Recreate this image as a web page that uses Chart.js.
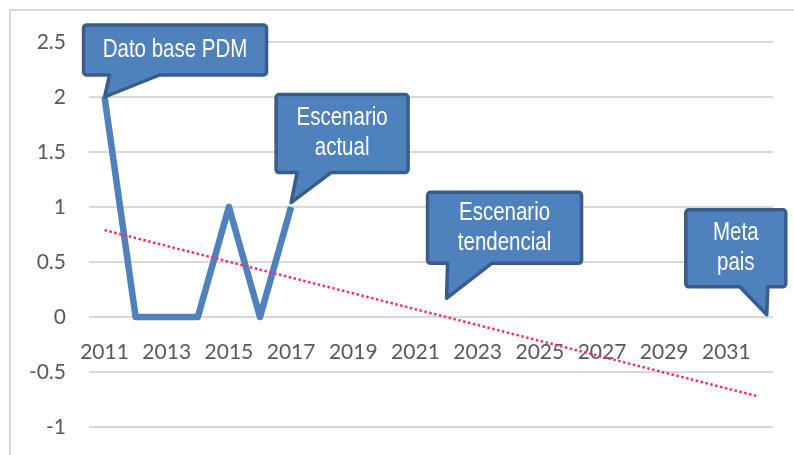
<!DOCTYPE html>
<html>
<head>
<meta charset="utf-8">
<script src="https://cdn.jsdelivr.net/npm/chart.js@4.4.1/dist/chart.umd.min.js"></script>
<style>
  html, body { margin: 0; padding: 0; background: #fff; }
  #wrap { width: 794px; height: 455px; position: relative; overflow: hidden; }
</style>
</head>
<body>
<div id="wrap"><canvas id="myChart" width="794" height="455"></canvas></div>
<script>
// Values
var years = ['2011','2012','2013','2014','2015','2016','2017','2018','2019','2020','2021',
             '2022','2023','2024','2025','2026','2027','2028','2029','2030','2031','2032'];
var actual = [2, 0, 0, 0, 1, 0, 1, null, null, null, null,
              null, null, null, null, null, null, null, null, null, null, null];
// dotted trend line: only its two ends are given, the library joins them
var trend = [0.79, null, null, null, null, null, null, null, null, null, null,
             null, null, null, null, null, null, null, null, null, null, -0.72];
var yTicks = [-1, -0.5, 0, 0.5, 1, 1.5, 2, 2.5];

// callout texts and the (category index, value) each one points to
var calloutText = [['Dato base PDM'], ['Escenario', 'actual'], ['Escenario', 'tendencial'], ['Meta', 'pais']];
var calloutAt = [[0, 2], [6, 1.04], [11, 0.17], [21.3, 0.02]];

// box shape relative to the tip: [left, right, top, bottom], tail base [from, to]
var calloutBox = [[-21, 162, -72, -22], [-15, 117, -108, -30], [-19, 135, -106, -35], [-81, 19, -105, -28]];
var calloutTail = [[5, 55], [6, 40], [1, 45], [-27, 1]];

Chart.defaults.font.family = 'Lato, "Liberation Sans", sans-serif';
Chart.defaults.color = '#595959';

var framePlugin = {
  id: 'frame',
  beforeDraw: function (chart) {
    var ctx = chart.ctx;
    ctx.save();
    ctx.fillStyle = '#fff';
    ctx.fillRect(0, 0, chart.width, chart.height);
    ctx.strokeStyle = '#d9d9d9';
    ctx.lineWidth = 2;
    ctx.strokeRect(10, 10, 900, 600);
    ctx.restore();
  }
};

var calloutPlugin = {
  id: 'callouts',
  afterDraw: function (chart) {
    var ctx = chart.ctx, xs = chart.scales.x, ys = chart.scales.y;
    for (var i = 0; i < calloutText.length; i++) {
      var tx = xs.getPixelForValue(calloutAt[i][0]);
      var ty = ys.getPixelForValue(calloutAt[i][1]);
      var b = calloutBox[i], t = calloutTail[i];
      var L = tx + b[0], R = tx + b[1], T = ty + b[2], B = ty + b[3];
      var a1 = tx + t[0], a2 = tx + t[1], r = 3;
      ctx.save();
      ctx.beginPath();
      ctx.moveTo(L + r, T);
      ctx.lineTo(R - r, T); ctx.arcTo(R, T, R, T + r, r);
      ctx.lineTo(R, B - r); ctx.arcTo(R, B, R - r, B, r);
      ctx.lineTo(a2, B); ctx.lineTo(tx, ty); ctx.lineTo(a1, B);
      ctx.lineTo(L + r, B); ctx.arcTo(L, B, L, B - r, r);
      ctx.lineTo(L, T + r); ctx.arcTo(L, T, L + r, T, r);
      ctx.closePath();
      ctx.fillStyle = '#4f81bd';
      ctx.fill();
      ctx.lineJoin = 'round';
      ctx.lineWidth = 3.5;
      ctx.strokeStyle = '#385d8a';
      ctx.stroke();

      // narrow white text
      var lines = calloutText[i];
      var cx = (L + R) / 2, cy = (T + B) / 2;
      ctx.fillStyle = '#fff';
      ctx.font = '25px "Liberation Sans", Arial, sans-serif';
      ctx.textAlign = 'center';
      ctx.textBaseline = 'middle';
      for (var k = 0; k < lines.length; k++) {
        ctx.save();
        ctx.translate(cx, cy + (k - (lines.length - 1) / 2) * 30);
        ctx.scale(0.82, 1);
        ctx.fillText(lines[k], 0, 0);
        ctx.restore();
      }
      ctx.restore();
    }
  }
};

var ctx = document.getElementById('myChart');
var myChart = new Chart(ctx, {
  type: 'line',
  data: {
    labels: years,
    datasets: [{
      label: 'Tendencia',
      data: trend,
      borderColor: '#ff2a7a',
      borderWidth: 2.5,
      borderDash: [2.5, 2.5],
      pointRadius: 0,
      spanGaps: true,
      fill: false
    }, {
      label: 'Escenario actual',
      data: actual,
      borderColor: '#4f81bd',
      borderWidth: 6.5,
      borderJoinStyle: 'round',
      pointRadius: 0,
      tension: 0,
      fill: false
    }]
  },
  options: {
    responsive: false,
    animation: false,
    devicePixelRatio: 1,
    layout: { padding: { top: 42, right: 21, bottom: 28, left: 0 } },
    plugins: {
      legend: { display: false },
      tooltip: { enabled: false }
    },
    scales: {
      x: {
        offset: true,
        position: { y: 0 },
        grid: { display: false, drawTicks: false, offset: true },
        border: { display: false },
        ticks: {
          autoSkip: false,
          maxRotation: 0,
          padding: 23,
          color: '#595959',
          font: { size: 21 },
          callback: function (v, i) { return i % 2 === 0 ? this.getLabelForValue(v) : ''; }
        }
      },
      y: {
        min: -1,
        max: 2.5,
        afterFit: function (scale) {
          scale.width = 89;
          scale.paddingTop = 0;
          scale.paddingBottom = 0;
        },
        afterBuildTicks: function (scale) { scale.ticks = yTicks.map(function (v) { return { value: v }; }); },
        grid: { color: '#d9d9d9', lineWidth: 2, drawTicks: false },
        border: { display: false },
        ticks: {
          padding: 23,
          color: '#595959',
          font: { size: 21 },
          callback: function (v) { return String(v); }
        }
      }
    }
  },
  plugins: [framePlugin, calloutPlugin]
});
</script>
</body>
</html>
